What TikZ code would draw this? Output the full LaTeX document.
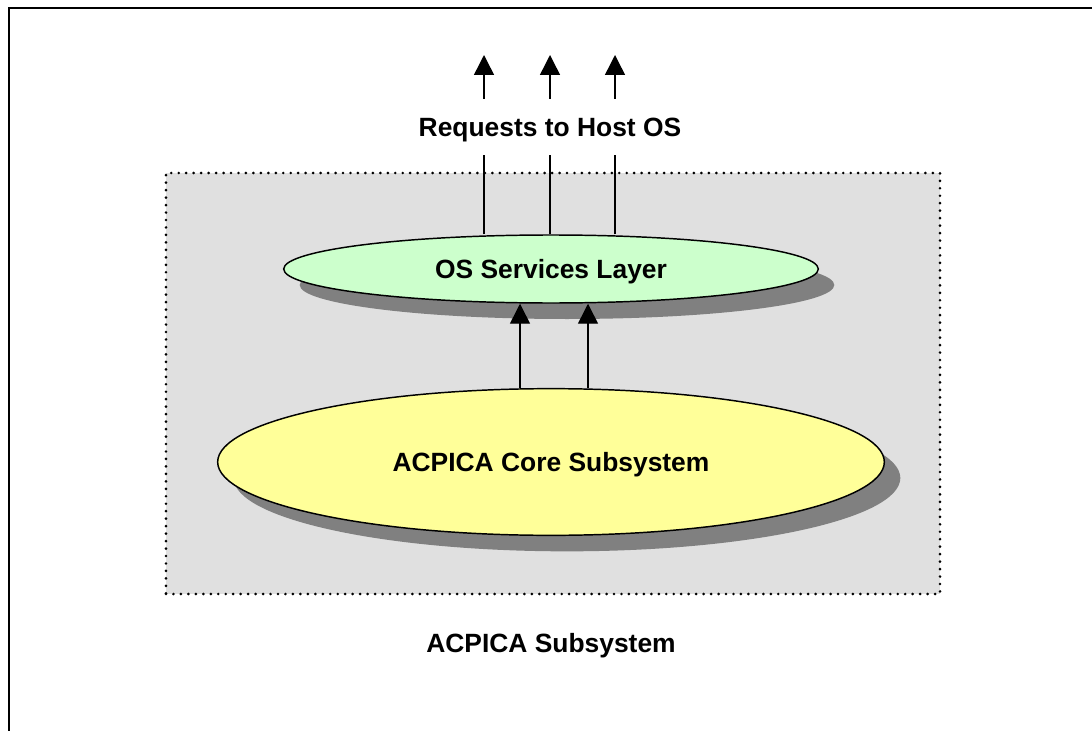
\documentclass[tikz,border=0pt]{standalone}
\usepackage{fontspec}
\setmainfont{Liberation Sans}
\usetikzlibrary{shapes.geometric,arrows.meta,positioning,shadows}
\definecolor{boxgray}{HTML}{E0E0E0}
\definecolor{osgreen}{HTML}{CCFFCC}
\definecolor{coreyellow}{HTML}{FFFF99}
\definecolor{shadegray}{HTML}{808080}

\begin{document}
\begin{tikzpicture}[
    x=0.75pt, y=-0.75pt,
    font=\fontsize{19.8pt}{23pt}\selectfont\bfseries,
    text depth=0pt,
    shadedell/.style={ellipse, draw=black, line width=1.1pt, inner sep=0pt,
        drop shadow={shadow xshift=12pt, shadow yshift=-12pt, fill=shadegray, opacity=1}},
    oslayer/.style={shadedell, fill=osgreen, minimum width=401pt, minimum height=51pt},
    corelayer/.style={shadedell, fill=coreyellow, minimum width=500pt, minimum height=110pt},
    subbox/.style={rectangle, draw=black, fill=boxgray, line width=2.2pt, line cap=round,
        dash pattern=on 0pt off 5.6pt, minimum width=580.5pt, minimum height=315.75pt},
    wire/.style={line width=1.1pt},
    call/.style={wire, -{Triangle[width=15pt,length=15pt]}}
]
\useasboundingbox (0,0) rectangle (1092,731);

% Outer frame
\draw[line width=2.2pt] (9,731) |- (1092,8);

% Subsystem box
\node[subbox] (acpica) at (553,383.5) {};
\node (sublabel) at (551,643) {ACPICA Subsystem};

% Layers
\node[oslayer] (os) at (551,269) {OS Services Layer};
\node[corelayer] (core) at (551,462) {ACPICA Core Subsystem};

% Requests to host
\node[inner sep=0pt, minimum height=42pt] (req) at (550,127) {Requests to Host OS};
\coordinate (up1) at (484,55);
\coordinate (up2) at (550,55);
\coordinate (up3) at (615,55);
\foreach \n in {1,2,3} {
    \draw[wire] (os.north -| up\n) -- (req.south -| up\n);
    \draw[call] (req.north -| up\n) -- (up\n);
}

% Core to OS services
\coordinate (in1) at (520,350);
\coordinate (in2) at (588,350);
\draw[call] (core.north -| in1) -- (os.south -| in1);
\draw[call] (core.north -| in2) -- (os.south -| in2);

\end{tikzpicture}
\end{document}
